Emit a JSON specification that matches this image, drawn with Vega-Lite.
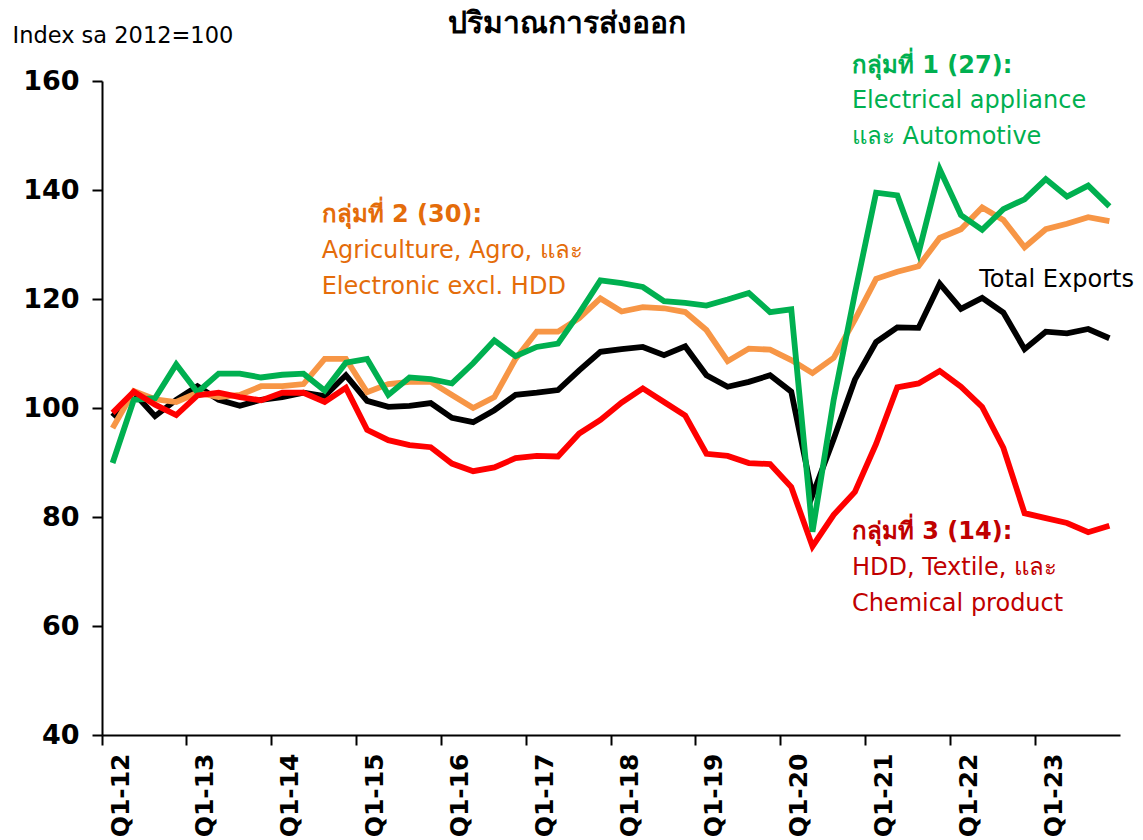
{
  "$schema": "https://vega.github.io/schema/vega-lite/v6.json",
  "width": 1018,
  "height": 654,
  "autosize": {"type": "none"},
  "padding": {"left": 102, "top": 81, "right": 23, "bottom": 105},
  "background": "white",
  "config": {"view": {"stroke": null}, "font": "DejaVu Sans"},
  "title": {"text": "ปริมาณการส่งออก", "fontSize": 30, "fontWeight": "bold", "anchor": "middle", "frame": "group", "offset": -15, "dx": -44, "color": "black", "font": "DejaVu Sans"},
  "datasets": {
    "series": [
      {"quarter": "Q1-12", "total": 98.4, "group2": 96.3, "group1": 89.9, "group3": 99.1},
      {"quarter": "Q2-12", "total": 102.8, "group2": 103.1, "group1": 101.5, "group3": 103},
      {"quarter": "Q3-12", "total": 98.5, "group2": 101.6, "group1": 101.8, "group3": 100.6},
      {"quarter": "Q4-12", "total": 101.5, "group2": 101.1, "group1": 108, "group3": 98.7},
      {"quarter": "Q1-13", "total": 104, "group2": 102.8, "group1": 102.9, "group3": 102.3},
      {"quarter": "Q2-13", "total": 101.5, "group2": 102, "group1": 106.3, "group3": 102.8},
      {"quarter": "Q3-13", "total": 100.4, "group2": 102.4, "group1": 106.3, "group3": 102},
      {"quarter": "Q4-13", "total": 101.5, "group2": 104, "group1": 105.6, "group3": 101.4},
      {"quarter": "Q1-14", "total": 102, "group2": 104, "group1": 106.1, "group3": 102.8},
      {"quarter": "Q2-14", "total": 102.8, "group2": 104.4, "group1": 106.3, "group3": 102.8},
      {"quarter": "Q3-14", "total": 102.2, "group2": 109, "group1": 103.2, "group3": 101.1},
      {"quarter": "Q4-14", "total": 106, "group2": 109, "group1": 108.3, "group3": 103.7},
      {"quarter": "Q1-15", "total": 101.3, "group2": 102.9, "group1": 109, "group3": 96},
      {"quarter": "Q2-15", "total": 100.2, "group2": 104.4, "group1": 102.4, "group3": 94.1},
      {"quarter": "Q3-15", "total": 100.4, "group2": 104.8, "group1": 105.6, "group3": 93.2},
      {"quarter": "Q4-15", "total": 100.9, "group2": 104.8, "group1": 105.3, "group3": 92.8},
      {"quarter": "Q1-16", "total": 98.2, "group2": 102.4, "group1": 104.5, "group3": 89.8},
      {"quarter": "Q2-16", "total": 97.4, "group2": 100, "group1": 108.2, "group3": 88.4},
      {"quarter": "Q3-16", "total": 99.6, "group2": 102, "group1": 112.4, "group3": 89.1},
      {"quarter": "Q4-16", "total": 102.4, "group2": 109, "group1": 109.5, "group3": 90.8},
      {"quarter": "Q1-17", "total": 102.8, "group2": 114, "group1": 111.2, "group3": 91.2},
      {"quarter": "Q2-17", "total": 103.3, "group2": 114, "group1": 111.8, "group3": 91.1},
      {"quarter": "Q3-17", "total": 106.9, "group2": 116.5, "group1": 117.4, "group3": 95.3},
      {"quarter": "Q4-17", "total": 110.3, "group2": 120.1, "group1": 123.4, "group3": 97.8},
      {"quarter": "Q1-18", "total": 110.8, "group2": 117.7, "group1": 122.9, "group3": 101},
      {"quarter": "Q2-18", "total": 111.2, "group2": 118.5, "group1": 122.2, "group3": 103.6},
      {"quarter": "Q3-18", "total": 109.7, "group2": 118.3, "group1": 119.6, "group3": 101.1},
      {"quarter": "Q4-18", "total": 111.3, "group2": 117.6, "group1": 119.3, "group3": 98.6},
      {"quarter": "Q1-19", "total": 106, "group2": 114.3, "group1": 118.8, "group3": 91.6},
      {"quarter": "Q2-19", "total": 103.9, "group2": 108.6, "group1": 119.9, "group3": 91.2},
      {"quarter": "Q3-19", "total": 104.8, "group2": 110.9, "group1": 121.1, "group3": 89.9},
      {"quarter": "Q4-19", "total": 106, "group2": 110.7, "group1": 117.6, "group3": 89.7},
      {"quarter": "Q1-20", "total": 103, "group2": 108.8, "group1": 118.1, "group3": 85.5},
      {"quarter": "Q2-20", "total": 84, "group2": 106.4, "group1": 77.3, "group3": 74.6},
      {"quarter": "Q3-20", "total": 94.3, "group2": 109.2, "group1": 101.5, "group3": 80.4},
      {"quarter": "Q4-20", "total": 105.2, "group2": 116.2, "group1": 121, "group3": 84.6},
      {"quarter": "Q1-21", "total": 112.1, "group2": 123.7, "group1": 139.5, "group3": 93.4},
      {"quarter": "Q2-21", "total": 114.8, "group2": 125, "group1": 139, "group3": 103.8},
      {"quarter": "Q3-21", "total": 114.7, "group2": 126, "group1": 128.4, "group3": 104.5},
      {"quarter": "Q4-21", "total": 122.8, "group2": 131.2, "group1": 143.8, "group3": 106.8},
      {"quarter": "Q1-22", "total": 118.2, "group2": 132.8, "group1": 135.4, "group3": 103.9},
      {"quarter": "Q2-22", "total": 120.2, "group2": 136.8, "group1": 132.7, "group3": 100.2},
      {"quarter": "Q3-22", "total": 117.5, "group2": 134.5, "group1": 136.5, "group3": 92.7},
      {"quarter": "Q4-22", "total": 110.8, "group2": 129.5, "group1": 138.3, "group3": 80.7},
      {"quarter": "Q1-23", "total": 114, "group2": 132.8, "group1": 142, "group3": 79.8},
      {"quarter": "Q2-23", "total": 113.7, "group2": 133.8, "group1": 138.8, "group3": 78.9},
      {"quarter": "Q3-23", "total": 114.5, "group2": 135, "group1": 140.8, "group3": 77.2},
      {"quarter": "Q4-23", "total": 112.8, "group2": 134.3, "group1": 137, "group3": 78.4}
    ],
    "notes": [
      {"quarter": "Q4-20", "value": 162.75, "label": "กลุ่มที่ 1 (27):", "kind": "head", "group": "group1"},
      {"quarter": "Q4-20", "value": 156.33, "label": " Electrical appliance", "kind": "body", "group": "group1"},
      {"quarter": "Q4-20", "value": 149.72, "label": "และ Automotive", "kind": "body", "group": "group1"},
      {"quarter": "Q3-14", "value": 135.41, "label": "กลุ่มที่ 2 (30):", "kind": "head", "group": "group2"},
      {"quarter": "Q3-14", "value": 128.81, "label": "Agriculture, Agro, และ", "kind": "body", "group": "group2"},
      {"quarter": "Q3-14", "value": 122.2, "label": "Electronic excl. HDD", "kind": "body", "group": "group2"},
      {"quarter": "Q4-20", "value": 77.25, "label": "กลุ่มที่ 3 (14):", "kind": "head", "group": "group3"},
      {"quarter": "Q4-20", "value": 70.64, "label": "HDD, Textile, และ", "kind": "body", "group": "group3"},
      {"quarter": "Q4-20", "value": 64.04, "label": "Chemical product", "kind": "body", "group": "group3"},
      {"quarter": "Q2-22", "value": 123.49, "label": "Total Exports", "kind": "body", "group": "total"}
    ]
  },
  "encoding": {
    "x": {
      "field": "quarter", "type": "ordinal", "bandPosition": 0.5,
      "scale": {"type": "band", "paddingInner": 0, "paddingOuter": 0,
        "domain": ["Q1-12","Q2-12","Q3-12","Q4-12","Q1-13","Q2-13","Q3-13","Q4-13","Q1-14","Q2-14","Q3-14","Q4-14","Q1-15","Q2-15","Q3-15","Q4-15","Q1-16","Q2-16","Q3-16","Q4-16","Q1-17","Q2-17","Q3-17","Q4-17","Q1-18","Q2-18","Q3-18","Q4-18","Q1-19","Q2-19","Q3-19","Q4-19","Q1-20","Q2-20","Q3-20","Q4-20","Q1-21","Q2-21","Q3-21","Q4-21","Q1-22","Q2-22","Q3-22","Q4-22","Q1-23","Q2-23","Q3-23","Q4-23"]},
      "axis": {
        "title": null,
        "values": ["Q1-12","Q1-13","Q1-14","Q1-15","Q1-16","Q1-17","Q1-18","Q1-19","Q1-20","Q1-21","Q1-22","Q1-23"],
        "bandPosition": 0, "labelOffset": 8, "labelAngle": -90,
        "labelFontSize": 25, "labelFontWeight": "bold", "labelColor": "black", "labelFont": "DejaVu Sans",
        "labelPadding": 8, "tickSize": 10, "tickWidth": 2, "tickColor": "black",
        "domainColor": "black", "domainWidth": 2, "grid": false
      }
    },
    "y": {
      "field": "value", "type": "quantitative",
      "scale": {"domain": [40, 160], "nice": false, "zero": false},
      "axis": {
        "values": [40, 60, 80, 100, 120, 140, 160],
        "title": "Index sa 2012=100", "titleAngle": 0, "titleAlign": "left", "titleBaseline": "middle",
        "titleX": -90, "titleY": -46, "titleFontSize": 22.5, "titleFontWeight": "normal", "titleColor": "black", "titleFont": "DejaVu Sans",
        "labelFontSize": 27, "labelFontWeight": "bold", "labelColor": "black", "labelFont": "DejaVu Sans",
        "labelPadding": 13, "tickSize": 10, "tickWidth": 2, "tickColor": "black",
        "domainColor": "black", "domainWidth": 2, "grid": false
      }
    }
  },
  "layer": [
    {
      "data": {"name": "series"},
      "transform": [{"fold": ["total", "group2", "group1", "group3"], "as": ["series", "value"]}],
      "mark": {"type": "line", "strokeWidth": 5.8},
      "encoding": {
        "color": {
          "field": "series", "type": "nominal",
          "scale": {"domain": ["total", "group2", "group1", "group3"], "range": ["#000000", "#F79646", "#00B050", "#FF0000"]},
          "legend": null
        }
      }
    },
    {
      "data": {"name": "notes"},
      "transform": [{"filter": "datum.kind === 'head'"}],
      "mark": {"type": "text", "align": "left", "baseline": "middle", "fontSize": 24, "fontWeight": "bold", "font": "DejaVu Sans", "dx": -3},
      "encoding": {
        "text": {"field": "label", "type": "nominal"},
        "fill": {"field": "group", "type": "nominal",
          "scale": {"domain": ["total", "group1", "group2", "group3"], "range": ["#000000", "#00B050", "#E46C0A", "#C00000"]},
          "legend": null}
      }
    },
    {
      "data": {"name": "notes"},
      "transform": [{"filter": "datum.kind === 'body'"}],
      "mark": {"type": "text", "align": "left", "baseline": "middle", "fontSize": 24, "fontWeight": "normal", "font": "DejaVu Sans", "dx": -3},
      "encoding": {
        "text": {"field": "label", "type": "nominal"},
        "fill": {"field": "group", "type": "nominal",
          "scale": {"domain": ["total", "group1", "group2", "group3"], "range": ["#000000", "#00B050", "#E46C0A", "#C00000"]},
          "legend": null}
      }
    }
  ]
}
